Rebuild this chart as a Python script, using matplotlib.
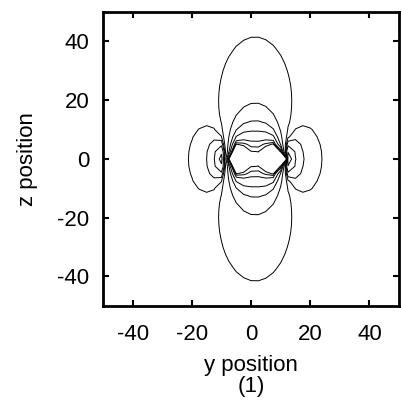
import numpy as np
import matplotlib.pyplot as plt

plt.rcParams['font.family'] = ['Liberation Sans', 'DejaVu Sans']
plt.rcParams['axes.unicode_minus'] = False

# current loop in the x-y plane, seen in the y-z plane
loop_center = 1.4
loop_radius = 8.9
squeeze = 1.9   # lobes in the original are narrower than a pure loop field

# sampling grid (coarse, like the original)
y_pos = np.linspace(-50, 50, 41)
z_pos = np.linspace(-50, 50, 41)

# where the contour lines cross the z axis and the mid plane
axis_z = [41.5, 19.0, 13.0, 9.5, 6.0, 4.0, 2.0]
side_y = [-21.0, -15.0, -12.3, -10.4]

ticks = [-40, -20, 0, 20, 40]


def bz(y, z):
    phi = np.linspace(0, 2 * np.pi, 361)[:-1]
    y = squeeze * (np.asarray(y, dtype=float)[..., None] - loop_center)
    z = np.asarray(z, dtype=float)[..., None]
    a = squeeze * loop_radius
    num = a * a - a * y * np.sin(phi)
    den = ((a * np.cos(phi)) ** 2 + (y - a * np.sin(phi)) ** 2 + z ** 2) ** 1.5
    return (num / den).mean(axis=-1)


Y, Z = np.meshgrid(y_pos, z_pos)
B = bz(Y, Z)

levels = [bz(loop_center, z) for z in axis_z] + [bz(y, 0.0) for y in side_y]
levels = sorted(set(np.round(levels, 8)))

fig = plt.figure(figsize=(4.01, 4.04), dpi=100)
ax = fig.add_axes([0.257, 0.243, 0.738, 0.727])
ax.contour(Y, Z, B, levels=levels, colors='black', linewidths=0.7,
           linestyles='solid')

ax.set_xlim(-50, 50)
ax.set_ylim(-50, 50)
ax.set_xticks(ticks)
ax.set_yticks(ticks)
ax.tick_params(direction='in', length=4, width=1.5, labelsize=16,
               top=True, right=True)
ax.tick_params(axis='x', pad=13)
ax.tick_params(axis='y', pad=10)
for s in ax.spines.values():
    s.set_linewidth(2)

ax.set_xlabel('y position\n(1)', fontsize=16, labelpad=7, linespacing=1.05)
ax.set_ylabel('z position', fontsize=16, labelpad=14)

fig.savefig('out.png', dpi=100)
